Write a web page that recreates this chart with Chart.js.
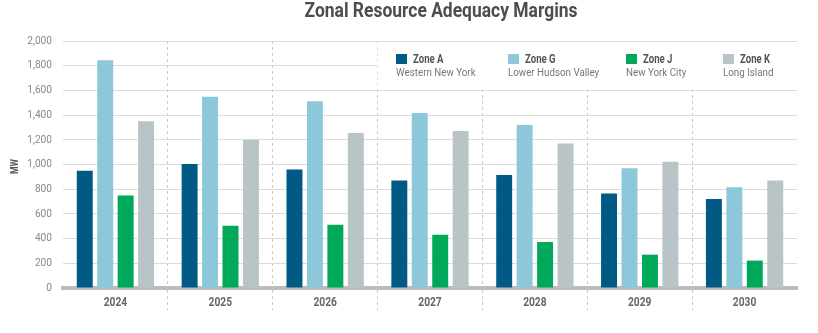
<!DOCTYPE html>
<html>
<head>
<meta charset="utf-8">
<script src="https://cdn.jsdelivr.net/npm/chart.js@4"></script>
<style>
  html, body { margin: 0; padding: 0; background: #fff; }
</style>
</head>
<body>
<canvas id="grafico" width="818" height="333"></canvas>
<script>
const years = ["2024", "2025", "2026", "2027", "2028", "2029", "2030"];
const zoneA = [950, 1005, 960, 870, 915, 765, 720];
const zoneG = [1845, 1548, 1512, 1418, 1320, 970, 815];
const zoneJ = [750, 505, 512, 432, 372, 270, 222];
const zoneK = [1350, 1200, 1256, 1272, 1170, 1022, 870];
const zoneNames = ["Zone A", "Zone G", "Zone J", "Zone K"];
const zoneAreas = ["Western New York", "Lower Hudson Valley", "New York City", "Long Island"];
const colors = ["#005a84", "#8cc8d9", "#00a859", "#b9c4c6"];
const yTicks = [0, 200, 400, 600, 800, 1000, 1200, 1400, 1600, 1800, 2000];
const chartTitle = "Zonal Resource Adequacy Margins";
const yTitle = "MW";

// the source uses a condensed face, so text is drawn squeezed horizontally
function squeeze(ctx, text, x, y, sx, align) {
  ctx.save();
  ctx.translate(x, y);
  ctx.scale(sx, 1);
  ctx.textAlign = align || "left";
  ctx.textBaseline = "middle";
  ctx.fillText(text, 0, 0);
  ctx.restore();
}

const extras = {
  id: "extras",
  afterDraw(chart) {
    const { ctx, chartArea, scales } = chart;
    const x = scales.x;
    const y = scales.y;

    // title
    ctx.save();
    ctx.font = "bold 21px Roboto, sans-serif";
    ctx.fillStyle = "#4d4d4f";
    squeeze(ctx, chartTitle, 441, 12, 273 / ctx.measureText(chartTitle).width, "center");

    // y tick labels
    ctx.font = "11px Roboto, sans-serif";
    ctx.fillStyle = "#888";
    yTicks.forEach(v => {
      squeeze(ctx, v.toLocaleString("en-US"), chartArea.left - 11, y.getPixelForValue(v), 0.92, "right");
    });

    // x labels
    ctx.font = "bold 12px Roboto, sans-serif";
    ctx.fillStyle = "#666";
    years.forEach((yr, i) => {
      squeeze(ctx, yr, x.getPixelForValue(i), chartArea.bottom + 15, 0.85, "center");
    });

    // y title
    ctx.save();
    ctx.translate(15, (chartArea.top + chartArea.bottom) / 2 + 2);
    ctx.rotate(-Math.PI / 2);
    ctx.font = "bold 10px Roboto, sans-serif";
    ctx.fillStyle = "#555";
    squeeze(ctx, yTitle, 0, 0, 0.85, "center");
    ctx.restore();

    // legend panel
    const half = (x.getPixelForValue(1) - x.getPixelForValue(0)) / 2;
    const left = x.getPixelForValue(3) - half;
    const top = y.getPixelForValue(2000) + 1;
    const bottom = y.getPixelForValue(1600) - 1;
    ctx.fillStyle = "#fff";
    ctx.fillRect(left, top, chartArea.right - left + 2, bottom - top);
    const offsets = [-401, -289, -171, -74];
    chart.data.datasets.forEach((ds, i) => {
      const lx = chartArea.right + offsets[i];
      ctx.fillStyle = ds.backgroundColor;
      ctx.fillRect(lx, top + 12, 11, 10);
      ctx.fillStyle = "#555";
      ctx.font = "bold 12px Roboto, sans-serif";
      squeeze(ctx, ds.label, lx + 17, top + 18, 0.8);
      ctx.fillStyle = "#777";
      ctx.font = "11.5px Roboto, sans-serif";
      squeeze(ctx, zoneAreas[i], lx, top + 31, 0.85);
    });
    ctx.restore();
  }
};

const datasets = [zoneA, zoneG, zoneJ, zoneK].map((values, i) => ({
  label: zoneNames[i],
  data: values,
  backgroundColor: colors[i],
  categoryPercentage: 0.78,
  barPercentage: 0.78
}));

new Chart(document.getElementById("grafico"), {
  type: "bar",
  data: { labels: years, datasets },
  plugins: [extras],
  options: {
    responsive: false,
    animation: false,
    layout: { padding: { left: 0, right: 21, top: 41, bottom: 0 } },
    plugins: {
      legend: { display: false },
      tooltip: { enabled: false },
      title: { display: false }
    },
    scales: {
      x: {
        afterFit: s => { s.height = 45; },
        grid: {
          offset: true,
          color: c => (c.index > 0 ? "#c8c8c8" : "transparent"),
          tickBorderDash: [3, 3],
          tickLength: 22,
          tickColor: c => (c.index > 0 ? "#c8c8c8" : "transparent")
        },
        border: { color: "#bcbcbc", width: 4, dash: [3, 3] },
        ticks: { display: false }
      },
      y: {
        min: 0,
        max: 2000,
        afterFit: s => { s.width = 63; },
        afterBuildTicks: axis => { axis.ticks = yTicks.map(v => ({ value: v })); },
        grid: { color: "#dcdcdc", tickLength: 0 },
        border: { display: false },
        ticks: { display: false }
      }
    }
  }
});
</script>
</body>
</html>
